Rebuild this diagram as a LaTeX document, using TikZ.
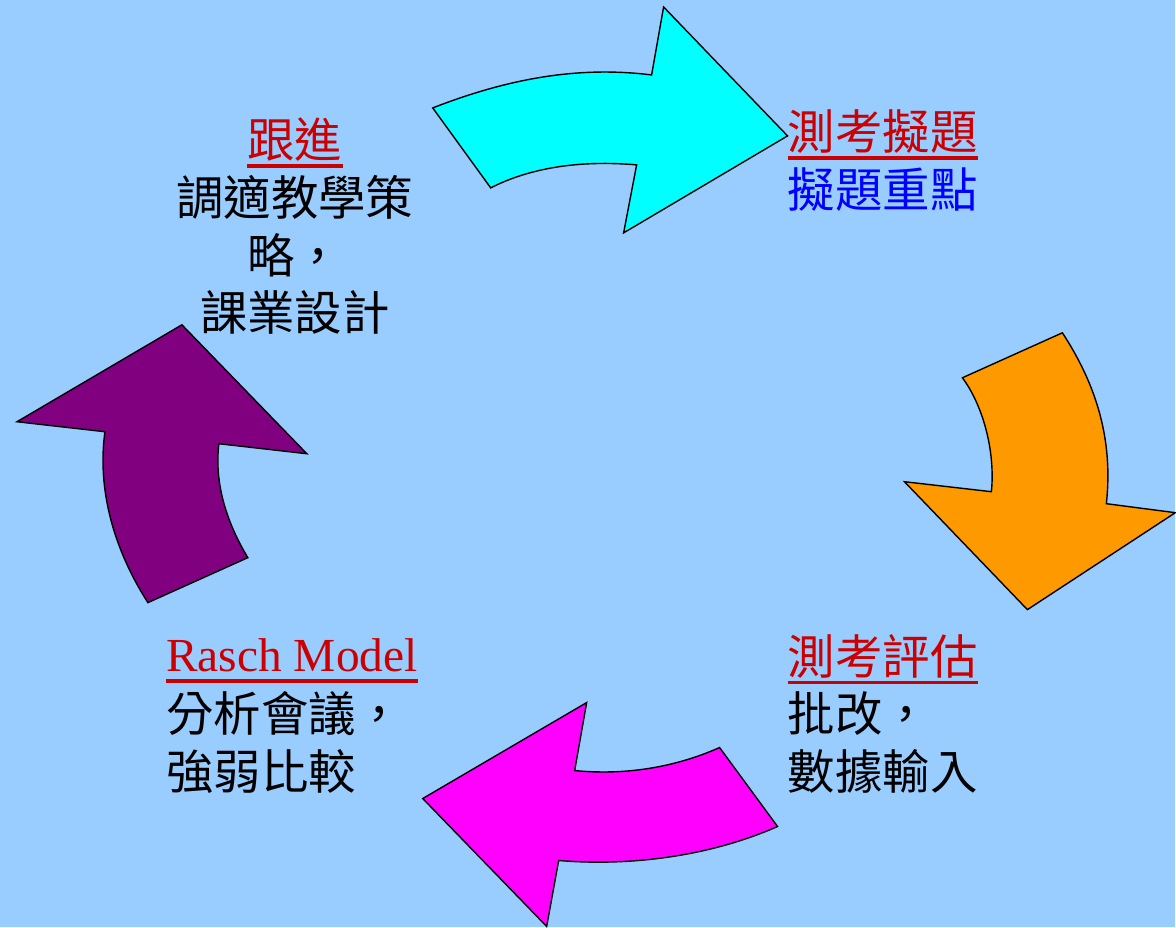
\documentclass[tikz,border=0pt]{standalone}
\usepackage{fontspec}
\setmainfont{Liberation Serif}
\newfontfamily\cjk{Noto Sans CJK TC}

\definecolor{bgblue}{RGB}{153,204,255}
\definecolor{titlered}{RGB}{204,0,0}
\definecolor{notebl}{RGB}{0,0,255}
\definecolor{arcyan}{RGB}{0,255,255}
\definecolor{arorange}{RGB}{255,153,0}
\definecolor{armagenta}{RGB}{255,0,255}
\definecolor{arpurple}{RGB}{128,0,128}

\tikzset{
  bigarrow/.style={draw=black, line width=0.8pt, line join=miter},
  titletext/.style={text=titlered, inner sep=0pt, font=\cjk\fontsize{27}{32.6}\selectfont},
  bodytext/.style={inner sep=0pt, font=\cjk\fontsize{27}{32.6}\selectfont},
  underbar/.style={draw=titlered, line width=2.2pt}
}

\begin{document}
\begin{tikzpicture}[x=0.02cm, y=-0.02cm]
\fill[bgblue] (0,0) rectangle (1176,928);      % 背景

% 上方箭头
\filldraw[bigarrow, fill=arcyan] (433,108) .. controls (510,78) and (580,66) .. (652,75)
  -- (664,7) -- (788,136) -- (624,233) -- (637,165)
  .. controls (580,160) and (530,168) .. (491,188) -- cycle;

% 右方箭头
\filldraw[bigarrow, fill=arorange] (1063,333) -- (963,378)
  .. controls (983,405) and (996,450) .. (992,492)
  -- (905,482) -- (1028,610) -- (1176,513) -- (1107,504)
  .. controls (1114,440) and (1097,385) .. cycle;

% 下方箭头
\filldraw[bigarrow, fill=armagenta] (720,748) -- (778,827)
  .. controls (710,857) and (630,867) .. (559,861)
  -- (547,927) -- (423,799) -- (587,703) -- (575,771)
  .. controls (625,776) and (675,768) .. cycle;

% 左方箭头
\filldraw[bigarrow, fill=arpurple] (148,603) -- (248,558)
  .. controls (228,525) and (214,485) .. (219,444)
  -- (307,454) -- (182,325) -- (17,422) -- (105,432)
  .. controls (97,490) and (114,550) .. cycle;

% 左上文字
\node[titletext] (follow) at (295,140) {跟進};
\draw[underbar] ([yshift=-2pt]follow.south west) -- ([yshift=-2pt]follow.south east);
\node[bodytext, align=center] (followbody) at (295,255) {調適教學策\\略，\\課業設計};

% 右上文字
\node[titletext, anchor=west] (setq) at (788,132) {測考擬題};
\draw[underbar] ([yshift=-2pt]setq.south west) -- ([yshift=-2pt]setq.south east);
\node[bodytext, anchor=west, text=notebl] (setqbody) at (788,190) {擬題重點};

% 右下文字
\node[titletext, anchor=west] (assess) at (788,657) {測考評估};
\draw[underbar] ([yshift=-2pt]assess.south west) -- ([yshift=-2pt]assess.south east);
\node[bodytext, anchor=west, align=left] (assessbody) at (788,743) {批改，\\數據輸入};

% 左下文字
\node[text=titlered, inner sep=0pt, anchor=base west, font=\fontsize{27}{32.6}\selectfont] (rasch) at (166,672) {Rasch Model};
\draw[underbar] ([yshift=-5.5pt]rasch.base west) -- ([yshift=-5.5pt]rasch.base east);
\node[bodytext, anchor=west, align=left] (raschbody) at (166,743) {分析會議，\\強弱比較};
\end{tikzpicture}
\end{document}
